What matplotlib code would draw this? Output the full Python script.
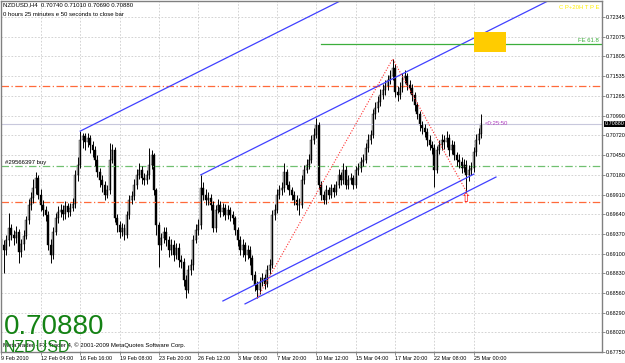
import numpy as np
import matplotlib
matplotlib.use("Agg")
import matplotlib.pyplot as plt
import matplotlib.transforms as mtransforms
import matplotlib.patches as patches

# NZDUSD H4 bars, prices in pips (x 0.0001)
first_open = 6930
closes = [6922, 6915, 6929, 6945, 6936, 6931, 6940, 6912, 6923, 6934,
          6956, 6977, 6986, 7000, 7014, 6991, 6977, 6970, 6963, 6922,
          6908, 6940, 6959, 6967, 6970, 6964, 6975, 6967, 6973, 6978,
          7018, 7032, 7066, 7071, 7063, 7069, 7059, 7052, 7039, 7022,
          7011, 7004, 6991, 6997, 7039, 7052, 6959, 6949, 6940, 6945,
          6936, 6963, 6984, 6989, 7004, 7018, 7025, 7014, 7011, 7018,
          7032, 7045, 6997, 6949, 6922, 6931, 6940, 6929, 6915, 6922,
          6908, 6918, 6901, 6899, 6874, 6860, 6888, 6894, 6929, 6942,
          6949, 7000, 6991, 6984, 6986, 6977, 6945, 6970, 6977, 6967,
          6973, 6963, 6970, 6963, 6959, 6942, 6929, 6915, 6922, 6908,
          6915, 6904, 6881, 6867, 6860, 6871, 6877, 6868, 6888, 6894,
          6963, 6970, 6991, 6997, 7000, 7022, 7004, 6997, 6991, 6984,
          6977, 6977, 7011, 7025, 7032, 7039, 7066, 7073, 7086, 7004,
          6991, 6984, 6997, 6991, 7000, 6995, 7004, 7018, 7011, 7025,
          7004, 7011, 7014, 7004, 7025, 7027, 7036, 7039, 7055, 7066,
          7073, 7101, 7110, 7118, 7128, 7135, 7140, 7148, 7154, 7165,
          7132, 7128, 7137, 7151, 7154, 7141, 7137, 7128, 7114, 7101,
          7086, 7082, 7077, 7066, 7059, 7055, 7025, 7052, 7059, 7066,
          7063, 7069, 7052, 7059, 7045, 7039, 7036, 7027, 7032, 7018,
          7025, 7027, 7050, 7066, 7074, 7088]
highs = [6938, 6928, 6935, 6966, 6950, 6942, 6948, 6944, 6930, 6942,
         6962, 6985, 6995, 7012, 7022, 7018, 6998, 6984, 6975, 6968,
         6930, 6946, 6965, 6975, 6978, 6976, 6982, 6980, 6980, 6986,
         7024, 7042, 7078, 7076, 7075, 7075, 7072, 7064, 7058, 7045,
         7028, 7018, 7010, 7004, 7062, 7060, 7056, 6964, 6955, 6952,
         6950, 6968, 6990, 6996, 7012, 7026, 7034, 7030, 7020, 7025,
         7055, 7052, 7048, 7000, 6954, 6938, 6946, 6946, 6934, 6930,
         6928, 6925, 6924, 6908, 6904, 6880, 6894, 6902, 6935, 6950,
         6958, 7018, 7008, 6998, 6994, 6992, 6982, 6976, 6985, 6982,
         6980, 6978, 6976, 6974, 6968, 6962, 6946, 6934, 6930, 6926,
         6922, 6920, 6908, 6886, 6872, 6878, 6884, 6882, 6895, 6902,
         6970, 6978, 6998, 7004, 7008, 7034, 7026, 7010, 7002, 6996,
         6990, 6986, 7018, 7032, 7040, 7046, 7072, 7082, 7096, 7090,
         7010, 6996, 7004, 7002, 7006, 7006, 7010, 7026, 7022, 7034,
         7030, 7018, 7020, 7018, 7030, 7034, 7042, 7046, 7062, 7074,
         7080, 7108, 7118, 7126, 7136, 7142, 7148, 7155, 7162, 7177,
         7170, 7140, 7145, 7158, 7162, 7158, 7148, 7142, 7132, 7118,
         7105, 7092, 7088, 7082, 7072, 7064, 7060, 7058, 7066, 7074,
         7072, 7078, 7074, 7066, 7064, 7050, 7046, 7042, 7040, 7038,
         7032, 7036, 7056, 7074, 7082, 7101]
lows = [6912, 6883, 6908, 6920, 6928, 6922, 6925, 6897, 6905, 6915,
        6930, 6950, 6970, 6980, 6992, 6985, 6968, 6962, 6955, 6915,
        6897, 6902, 6935, 6952, 6960, 6956, 6958, 6960, 6962, 6968,
        6972, 7010, 7028, 7055, 7052, 7056, 7048, 7042, 7030, 7015,
        7002, 6995, 6984, 6986, 6992, 7034, 6953, 6940, 6932, 6934,
        6929, 6932, 6958, 6978, 6984, 6998, 7012, 7006, 7004, 7006,
        7012, 7026, 6990, 6936, 6892, 6915, 6925, 6920, 6905, 6908,
        6900, 6902, 6892, 6890, 6865, 6849, 6856, 6880, 6888, 6924,
        6936, 6944, 6984, 6976, 6977, 6970, 6940, 6940, 6965, 6960,
        6962, 6956, 6958, 6955, 6950, 6935, 6920, 6908, 6905, 6900,
        6902, 6895, 6874, 6858, 6849, 6855, 6866, 6862, 6864, 6882,
        6890, 6956, 6965, 6985, 6990, 6995, 6998, 6990, 6984, 6976,
        6970, 6963, 6972, 7006, 7020, 7026, 7034, 7060, 7068, 6998,
        6984, 6978, 6978, 6985, 6986, 6988, 6990, 7000, 7004, 7006,
        6998, 6998, 7005, 6998, 7000, 7018, 7022, 7030, 7034, 7050,
        7060, 7068, 7095, 7104, 7112, 7122, 7128, 7134, 7142, 7148,
        7125, 7120, 7122, 7132, 7144, 7134, 7130, 7120, 7106, 7094,
        7078, 7074, 7070, 7058, 7052, 7046, 7001, 7020, 7046, 7052,
        7054, 7056, 7044, 7046, 7038, 7030, 7028, 7020, 7022, 6995,
        7010, 7018, 7022, 7044, 7060, 7069]

date_labels = ["9 Feb 2010", "12 Feb 04:00", "16 Feb 16:00", "19 Feb 08:00",
               "23 Feb 20:00", "26 Feb 12:00", "3 Mar 08:00", "7 Mar 20:00",
               "10 Mar 12:00", "15 Mar 04:00", "17 Mar 20:00", "22 Mar 08:00",
               "25 Mar 00:00"]
bars_per_label = 16
price_ticks = [0.72345, 0.72075, 0.71805, 0.71535, 0.71265, 0.70990, 0.70720,
               0.70450, 0.70180, 0.69910, 0.69640, 0.69370, 0.69100, 0.68830,
               0.68560, 0.68290, 0.68020, 0.67750]

# order levels
order_price = 0.7030
stop_price = 0.6981
take_price = 0.7140
bid = 0.70880

# trend lines: (bar start, bar end), (price start, price end)
trend_a = ([32, 140], [0.7078, 0.72605])
trend_b = ([81, 225], [0.7018, 0.72614])
trend_c = ([90, 192], [0.6845, 0.7019])
trend_d = ([99, 201], [0.6841, 0.7015])

# fibo expansion points (bar indexes)
fe_low1, fe_high, fe_low2 = 104, 159, 189
fe_start = 130
zone_bars = (192, 205)
zone_prices = (0.7187, 0.7214)

plt.rcParams['font.family'] = ['Liberation Sans', 'DejaVu Sans']
small = 4.3

c = np.array(closes) / 10000
h = np.array(highs) / 10000
l = np.array(lows) / 10000
o = np.concatenate([[first_open / 10000], c[:-1]])
x = np.arange(len(c))

fig = plt.figure(figsize=(6.25, 3.63), dpi=100)
ax = fig.add_axes([1/625, 11/363, 601/625, 351/363])
ax.set_xlim(-0.2, 244.1)
ax.set_ylim(0.67751, 0.72565)

# grid
ax.set_xticks(np.arange(len(date_labels)) * bars_per_label)
ax.set_xticklabels(date_labels, fontsize=3.9, ha='left')
ax.set_yticks(price_ticks)
ax.set_yticklabels(["%.5f" % p for p in price_ticks], fontsize=3.9)
ax.yaxis.tick_right()
ax.tick_params(axis='both', length=2, width=0.6, color='#808080', pad=0.8)
ax.grid(True, color='#cccccc', linestyle=(0, (2, 2)), linewidth=0.6)
ax.set_axisbelow(True)
for s in ax.spines.values():
    s.set_color('#808080')
    s.set_linewidth(1)

# order lines
ax.axhline(bid, color='#c8c8dc', lw=0.8)
ax.axhline(order_price, color='#70c070', lw=0.9, linestyle=(0, (6, 2, 1, 2)))
ax.axhline(stop_price, color='#ff6a3a', lw=0.9, linestyle=(0, (6, 2, 1, 2)))
ax.axhline(take_price, color='#ff6a3a', lw=0.9, linestyle=(0, (6, 2, 1, 2)))

# candles
ax.vlines(x, l, h, color='black', lw=0.7)
up = c >= o
ax.bar(x[up], (c - o)[up], bottom=o[up], width=0.8, color='#a8a8a8',
       edgecolor='#202020', linewidth=0.3)
ax.bar(x[~up], (o - c)[~up], bottom=c[~up], width=0.8, color='black',
       edgecolor='black', linewidth=0.3)

# channels
for tx, ty in [trend_a, trend_b, trend_c, trend_d]:
    ax.plot(tx, ty, color='#4040ff', lw=0.9)

# fibo expansion
fx = [fe_low1, fe_high, fe_low2]
fy = [l[fe_low1], h[fe_high], l[fe_low2]]
ax.plot(fx, fy, color='#ff3030', lw=0.8, linestyle=(0, (1, 1.5)))
fe618 = l[fe_low2] + 0.618 * (h[fe_high] - l[fe_low1])
ax.plot([fe_start, 244], [fe618, fe618], color='#3cae3c', lw=0.9)
ax.text(243, fe618 + 0.0001, "FE 61.8", color='#3cae3c', fontsize=small,
        ha='right', va='bottom')

ax.add_patch(patches.Rectangle((zone_bars[0], zone_prices[0]),
                               zone_bars[1] - zone_bars[0],
                               zone_prices[1] - zone_prices[0],
                               facecolor='#ffcc00', edgecolor='none', zorder=3))
ax.text(243, 0.7247, "C P+20H T P E", color='#ffee00', fontsize=small,
        ha='right', va='center')

# markers and labels
ax.text(fe_low2, l[fe_low2] - 0.00005, "\u21e7", color='red', fontsize=9,
        ha='center', va='top', family='DejaVu Sans')
ax.text(len(c) + 0.5, bid, "<0:25:50", color='#b040c0', fontsize=small,
        va='center')
ax.text(1.5, order_price + 0.0001, "#29566397 buy", fontsize=small,
        va='bottom')

ax.text(0.004, 0.995, "NZDUSD,H4  0.70740 0.71010 0.70690 0.70880",
        transform=ax.transAxes, fontsize=small, va='top')
ax.text(0.004, 0.97, "0 hours 25 minutes e 50 seconds to close bar",
        transform=ax.transAxes, fontsize=small, va='top')
ax.text(0.004, 0.051, "0.70880", transform=ax.transAxes, fontsize=20,
        color='#148214', va='baseline')
ax.text(0.004, 0.012, "MetaTrader - FX Trader 4, \u00a9 2001-2009 MetaQuotes Software Corp.",
        transform=ax.transAxes, fontsize=small, va='bottom')
ax.text(0.004, 0.0, "NZDUSD", transform=ax.transAxes, fontsize=11.5,
        color='#148214', va='baseline')

# current price box on the scale
trans = mtransforms.blended_transform_factory(ax.transAxes, ax.transData)
ax.text(1.004, bid, "0.70880", transform=trans, fontsize=3.9, color='white',
        va='center', ha='left', clip_on=False,
        bbox=dict(boxstyle='square,pad=0.15', facecolor='black', edgecolor='none'))

plt.savefig("out.png", dpi=100)
